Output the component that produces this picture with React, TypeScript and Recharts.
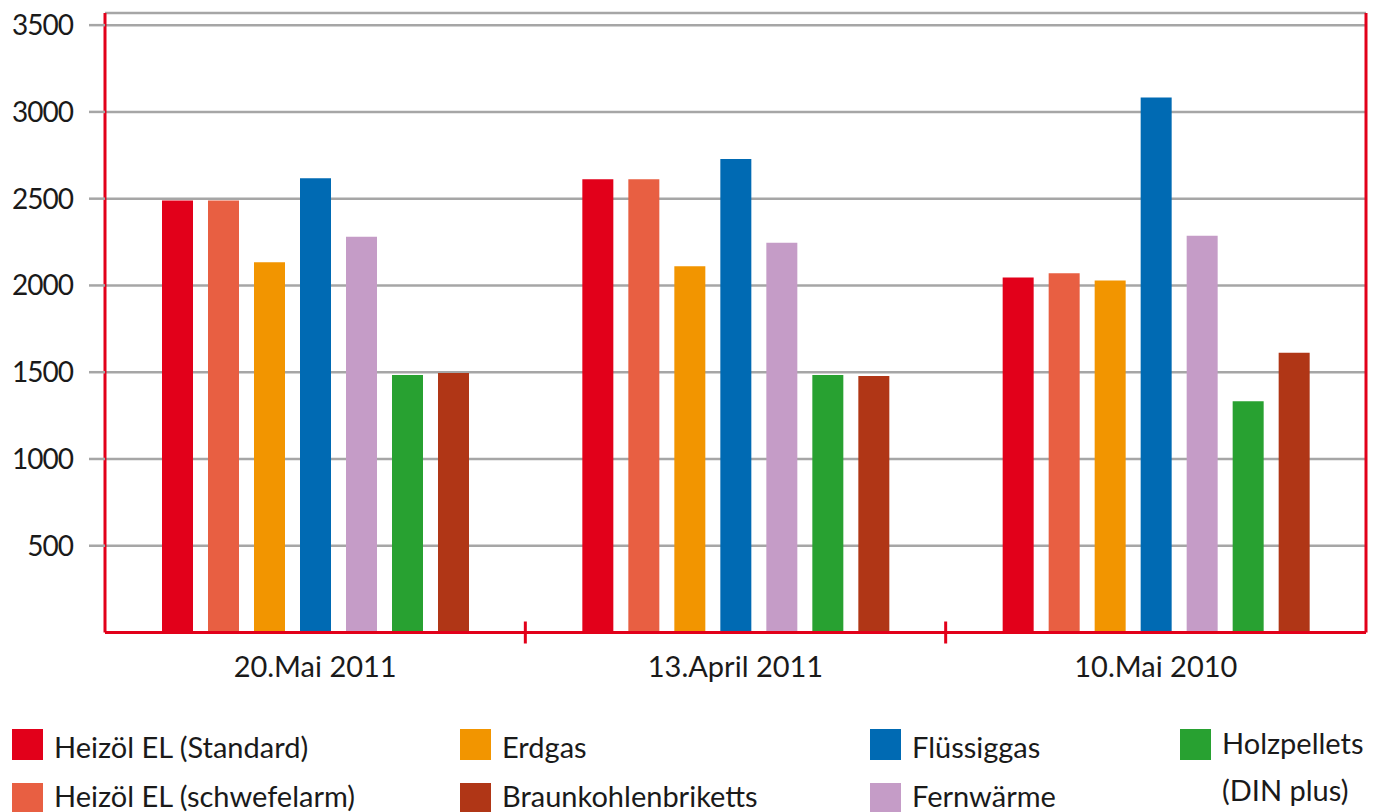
import React from 'react';
import { BarChart, Bar, XAxis, YAxis, CartesianGrid } from 'recharts';

const categories = ['20.Mai 2011', '13.April 2011', '10.Mai 2010'];
const heizoelStandard = [2490, 2612, 2046];
const heizoelSchwefelarm = [2490, 2612, 2070];
const erdgas = [2134, 2110, 2029];
const fluessiggas = [2618, 2728, 3083];
const fernwaerme = [2281, 2246, 2287];
const holzpellets = [1484, 1484, 1333];
const braunkohle = [1496, 1478, 1612];

const yTicks = [500, 1000, 1500, 2000, 2500, 3000, 3500];

const seriesKeys = ['hs', 'hsa', 'erd', 'fl', 'fw', 'hp', 'bk'];
const seriesNames = [
  'Heizöl EL (Standard)',
  'Heizöl EL (schwefelarm)',
  'Erdgas',
  'Flüssiggas',
  'Fernwärme',
  'Holzpellets (DIN plus)',
  'Braunkohlenbriketts',
];
const seriesColors = ['#E2001A', '#E85F42', '#F29500', '#006AB3', '#C59CC7', '#28A131', '#B03616'];
const seriesValues = [heizoelStandard, heizoelSchwefelarm, erdgas, fluessiggas, fernwaerme, holzpellets, braunkohle];

// legend arrangement: [series index, column, row]
const legendLayout = [
  [0, 0, 0],
  [1, 0, 1],
  [2, 1, 0],
  [6, 1, 1],
  [3, 2, 0],
  [4, 2, 1],
  [5, 3, 0],
];
const legendColumnX = [12, 460, 870, 1180];
const legendRowY = [729, 783];
const legendTextOffset = [-4, -9];

const data = categories.map((c, i) => {
  const row: Record<string, string | number> = { name: c };
  seriesKeys.forEach((k, s) => {
    row[k] = seriesValues[s][i];
  });
  return row;
});

const FONT = 'Lato, "Open Sans", sans-serif';
const RED = '#E2001A';
const GRID = '#A6A6A6';
const TEXT = '#1a1a1a';

const CHART_W = 1379;
const Y_AXIS_W = 105;
const RIGHT_AXIS_W = 13;
const X_TICK_MARGIN = 24;
const BAND_HALF = (CHART_W - Y_AXIS_W - RIGHT_AXIS_W) / categories.length / 2;

function CategoryTick(props: any) {
  const { x, y, payload, index } = props;
  const axisY = y - X_TICK_MARGIN;
  const showBoundary = index < categories.length - 1;
  return (
    <g>
      <text x={x} y={y} dy="0.71em" textAnchor="middle" fill={TEXT} fontSize={29} fontFamily={FONT}>
        {payload.value}
      </text>
      {showBoundary && (
        <line
          x1={x + BAND_HALF}
          x2={x + BAND_HALF}
          y1={axisY - 11}
          y2={axisY + 11}
          stroke={RED}
          strokeWidth={3}
        />
      )}
    </g>
  );
}

export default function App() {
  return (
    <div style={{ position: 'absolute', left: 0, top: 0, width: CHART_W, height: 812, background: '#fff', fontFamily: FONT, overflow: 'hidden' }}>
      <BarChart
        width={CHART_W}
        height={700}
        data={data}
        margin={{ top: 13, right: 0, left: 0, bottom: 7.5 }}
        barSize={31}
        barGap={15}
      >
        <CartesianGrid horizontal vertical={false} stroke={GRID} strokeWidth={2.5} />
        <XAxis
          dataKey="name"
          height={60}
          tickLine={false}
          tickSize={0}
          tickMargin={X_TICK_MARGIN}
          axisLine={{ stroke: RED, strokeWidth: 3 }}
          tick={<CategoryTick />}
          interval={0}
        />
        <YAxis
          width={Y_AXIS_W}
          domain={[0, 3570]}
          ticks={yTicks}
          allowDataOverflow
          tickSize={16}
          tickMargin={16}
          tickLine={{ stroke: GRID, strokeWidth: 2.5 }}
          axisLine={{ stroke: RED, strokeWidth: 3 }}
          tick={{ fill: TEXT, fontSize: 28, fontFamily: FONT, letterSpacing: -1 }}
        />
        <YAxis
          yAxisId="r"
          orientation="right"
          width={RIGHT_AXIS_W}
          domain={[0, 3570]}
          ticks={yTicks}
          tick={false}
          tickLine={false}
          axisLine={{ stroke: RED, strokeWidth: 3 }}
        />
        {seriesKeys.map((k, s) => (
          <Bar key={k} dataKey={k} name={seriesNames[s]} fill={seriesColors[s]} isAnimationActive={false} />
        ))}
      </BarChart>
      {legendLayout.map(([s, col, row]) => (
        <div key={s} style={{ position: 'absolute', left: legendColumnX[col], top: legendRowY[row] }}>
          <div style={{ position: 'absolute', left: 0, top: 0, width: 31, height: 31, background: seriesColors[s] }} />
          <div
            style={{
              position: 'absolute',
              left: 42,
              top: s === 5 ? -10 : legendTextOffset[row],
              width: s === 5 ? 170 : 420,
              fontSize: 29,
              lineHeight: s === 5 ? '47px' : '44px',
              color: TEXT,
              whiteSpace: s === 5 ? 'normal' : 'nowrap',
            }}
          >
            {seriesNames[s]}
          </div>
        </div>
      ))}
    </div>
  );
}
